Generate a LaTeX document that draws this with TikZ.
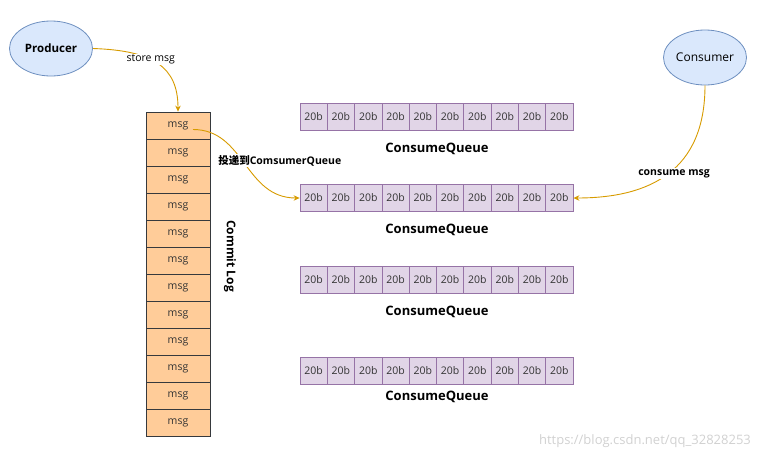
\documentclass[tikz,border=0pt]{standalone}
\usepackage{fontspec}
\setmainfont{Open Sans}
\newfontfamily\cjk{Noto Sans CJK SC}
\usetikzlibrary{positioning,shapes.geometric,arrows.meta}
\definecolor{actfill}{HTML}{DAE8FC}
\definecolor{actline}{HTML}{6C8EBF}
\definecolor{logfill}{HTML}{FFCC99}
\definecolor{logline}{HTML}{36393D}
\definecolor{qfill}{HTML}{E1D5E7}
\definecolor{qline}{HTML}{9673A6}
\definecolor{flow}{HTML}{D79B00}
\begin{document}
\begin{tikzpicture}[x=1pt, y=-1pt, node distance={27.3pt},
	actor/.style = {draw=actline, fill=actfill, ellipse, line width=0.8pt, minimum width=83pt, minimum height=55pt, inner sep=0pt, font=\fontsize{12}{14}\selectfont},
	logcell/.style = {draw=logline, fill=logfill, line width=0.8pt, minimum width=64pt, minimum height=27pt, inner sep=0pt, text=black!80, font=\fontsize{10.5}{12}\selectfont},
	cell/.style = {draw=qline, fill=qfill, line width=0.8pt, minimum width=27.3pt, minimum height=27pt, inner sep=0pt, text=black!80, font=\fontsize{10.5}{12}\selectfont},
	qname/.style = {font=\bfseries\fontsize{13}{15}\selectfont},
	lbl/.style = {fill=white, inner sep=1pt, font=\fontsize{10.5}{12}\selectfont},
	flowline/.style = {draw=flow, line width=0.9pt, -{Stealth[length=6pt,width=5.5pt]}}]
		\useasboundingbox (0,0) rectangle (771,450);
		\node[actor,font=\bfseries\fontsize{11.5}{14}\selectfont] (prod) at (51,48.5) {Producer};
		\node[actor] (cons) at (705,57.5) {Consumer};
		% commit log
		\node[logcell] (m1) at (178,125.5) {msg};
		\foreach \c [count=\p] in {2,...,12}
			\node[logcell] (m\c) [below of=m\p, node distance=27pt] {msg};
		\node[font=\bfseries\fontsize{12}{14}\selectfont, rotate=-90] (clog) at (230,256) {Commit Log};
		% consume queues
		\foreach \r/\y/\ly in {1/117/149,2/198/230,3/279.5/312,4/370.5/397} {
			\node[cell] (q\r-1) at (313.65,\y) {20b};
			\foreach \c [count=\p] in {2,...,10}
				\node[cell] (q\r-\c) [right of=q\r-\p] {20b};
			\node[qname] (cq\r) at (437,\ly) {ConsumeQueue};
		}
		\coordinate (src) at ([xshift=15pt,yshift=-4pt]m1.center);
		\draw[flowline] (prod.east) .. controls +(60,2) and +(0,-45) .. (m1.north)
			node[lbl, pos=0.42] (store) {store msg};
		\draw[flowline] (src) .. controls +(52,0) and +(-55,0) .. (q2-1.west)
			node[lbl, pos=0.47, xshift=37pt, font=\bfseries\fontsize{10.5}{12}\selectfont] (deliver) {{\cjk 投递到}ComsumerQueue};
		\draw[flowline] (cons.south) .. controls +(0,85) and +(77,0) .. (q2-10.east)
			node[lbl, pos=0.5, xshift=6pt, font=\bfseries\fontsize{10.5}{12}\selectfont] (take) {consume msg};
		\node[text=black!18, font=\fontsize{13}{15}\selectfont] (mark) at (645,441) {https://blog.csdn.net/qq\_32828253};
	\end{tikzpicture}
\end{document}
